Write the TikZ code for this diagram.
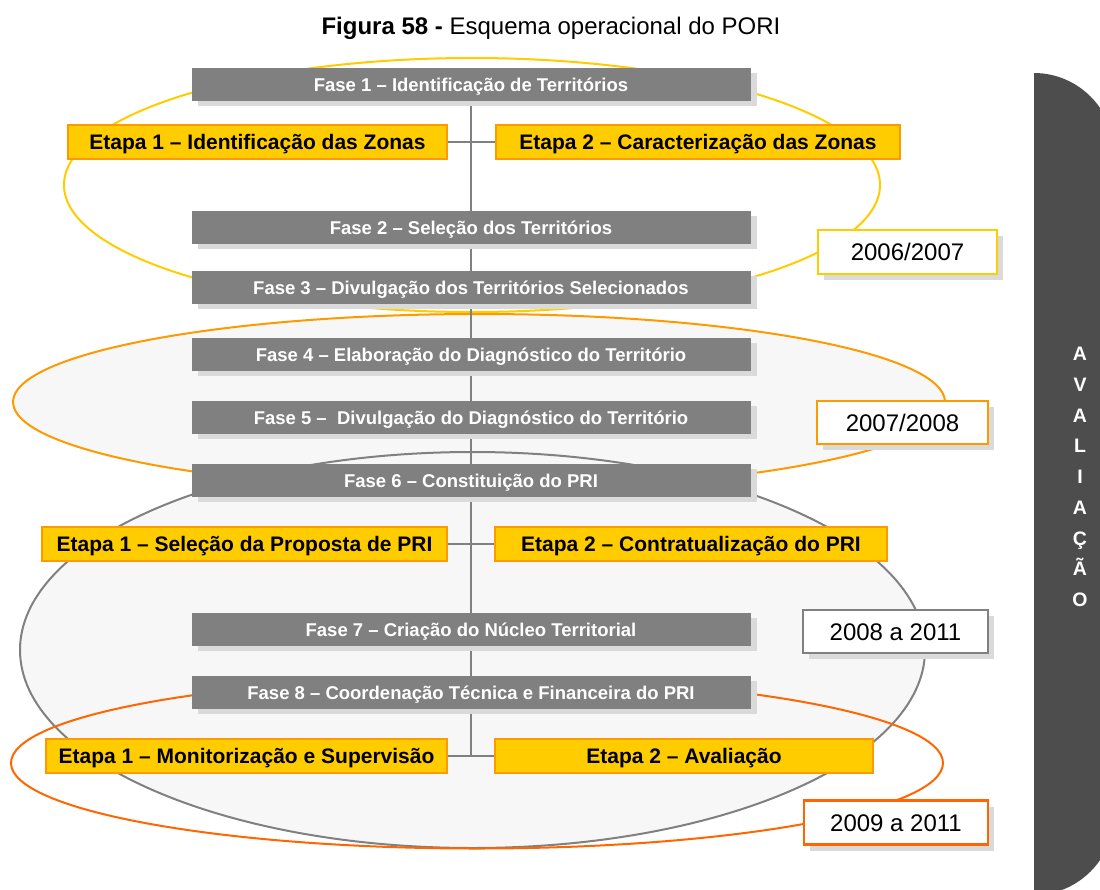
\documentclass[tikz,border=0pt]{standalone}
\usepackage{fontspec}
\setmainfont{Liberation Sans}
\usetikzlibrary{shadows}
\definecolor{phasegray}{HTML}{808080}
\definecolor{shadowgray}{HTML}{DADADA}
\definecolor{etapafill}{HTML}{FFCC00}
\definecolor{etapaborder}{HTML}{FF9900}
\definecolor{ellyellow}{HTML}{FFCC00}
\definecolor{ellorange}{HTML}{FF9900}
\definecolor{ellgray}{HTML}{808080}
\definecolor{elldark}{HTML}{FF6600}
\definecolor{ellfill}{HTML}{F7F7F7}
\definecolor{barcol}{HTML}{4D4D4D}
\begin{document}
\begin{tikzpicture}[x=1pt,y=-1pt,
  phase/.style={fill=phasegray, text=white, minimum width=559pt, minimum height=33pt, inner sep=0pt,
    text height=14pt, text depth=0pt,
    font=\fontsize{18.5}{20}\selectfont\bfseries,
    general shadow={fill=shadowgray, shadow xshift=6pt, shadow yshift=-5pt}},
  etapa/.style={fill=etapafill, draw=etapaborder, line width=1.5pt, minimum height=34pt, inner sep=0pt,
    text height=15pt, text depth=0pt,
    font=\fontsize{21}{23}\selectfont\bfseries},
  yearbox/.style={fill=white, line width=2.2pt, minimum height=43pt, inner sep=0pt,
    text height=17.5pt, text depth=0pt,
    font=\fontsize{24}{26}\selectfont,
    general shadow={fill=shadowgray, shadow xshift=6pt, shadow yshift=-6pt}},
  conn/.style={draw=phasegray, line width=1.8pt},
  ell/.style={line width=2pt}
]
\useasboundingbox (0,0) rectangle (1100,889);
\clip (0,0) rectangle (1100,889);

% title
\node (title) at (551,28) {\fontsize{24}{26}\selectfont\textbf{Figura 58 -} Esquema operacional do PORI};

% ellipses: fills
\fill[ellfill] (479,402) ellipse [x radius=466, y radius=88];
\fill[ellfill] (472.5,650) ellipse [x radius=452.5, y radius=198];
% ellipses: strokes
\draw[ell, ellyellow] (472,185) ellipse [x radius=408, y radius=127];
\draw[ell, ellorange] (479,402) ellipse [x radius=466, y radius=88];
\draw[ell, ellgray] (472.5,650) ellipse [x radius=452.5, y radius=198];
\draw[ell, elldark] (477,763) ellipse [x radius=466, y radius=85.5];

% connectors
\coordinate (j1) at (471,142);
\coordinate (j2) at (471,544);
\coordinate (j3) at (471,756);
\coordinate (top) at (471,101);
\draw[conn] (top) -- (j3);
\draw[conn] (447,142) -- (496,142);
\draw[conn] (447,544) -- (495,544);
\draw[conn] (447,756) -- (495,756);

% phase boxes
\node[phase] (f1) at (471,84.5) {Fase 1 – Identificação de Territórios};
\node[phase] (f2) at (471,227) {Fase 2 – Seleção dos Territórios};
\node[phase] (f3) at (471,287.5) {Fase 3 – Divulgação dos Territórios Selecionados};
\node[phase] (f4) at (471,354) {Fase 4 – Elaboração do Diagnóstico do Território};
\node[phase] (f5) at (471,417) {Fase 5 –\ \ Divulgação do Diagnóstico do Território};
\node[phase] (f6) at (471,480.5) {Fase 6 – Constituição do PRI};
\node[phase] (f7) at (471,629.5) {Fase 7 – Criação do Núcleo Territorial};
\node[phase] (f8) at (471,692.5) {Fase 8 – Coordenação Técnica e Financeira do PRI};

% etapa boxes
\node[etapa, minimum width=379pt] (e11) at (257.5,142) {Etapa 1 – Identificação das Zonas};
\node[etapa, minimum width=404pt] (e12) at (698,142) {Etapa 2 – Caracterização das Zonas};
\node[etapa, minimum width=405pt] (e21) at (244.5,544) {Etapa 1 – Seleção da Proposta de PRI};
\node[etapa, minimum width=392pt] (e22) at (691,544) {Etapa 2 – Contratualização do PRI};
\node[etapa, minimum width=401pt] (e31) at (246.5,756) {Etapa 1 – Monitorização e Supervisão};
\node[etapa, minimum width=378pt] (e32) at (684,756) {Etapa 2 – Avaliação};

% year boxes
\node[yearbox, draw=ellyellow, minimum width=179pt, minimum height=44pt] (y1) at (907.5,252) {2006/2007};
\node[yearbox, draw=ellorange, minimum width=171pt] (y2) at (902.5,422.5) {2007/2008};
\node[yearbox, draw=ellgray, minimum width=185pt] (y3) at (895.5,631.5) {2008 a 2011};
\node[yearbox, draw=elldark, minimum width=184pt, minimum height=44pt] (y4) at (896,822.5) {2009 a 2011};

% avaliacao bar
\fill[barcol] (1034,895) -- (1034,73) .. controls (1078,73) and (1114,109) .. (1114,153)
  -- (1114,815) .. controls (1114,859) and (1078,895) .. (1034,895) -- cycle;
\node[text=white, align=center, inner sep=0pt, font=\fontsize{19.5}{30.75}\selectfont\bfseries] (aval) at (1080,477)
  {A\\V\\A\\L\\I\\A\\Ç\\Ã\\O};
\end{tikzpicture}
\end{document}
